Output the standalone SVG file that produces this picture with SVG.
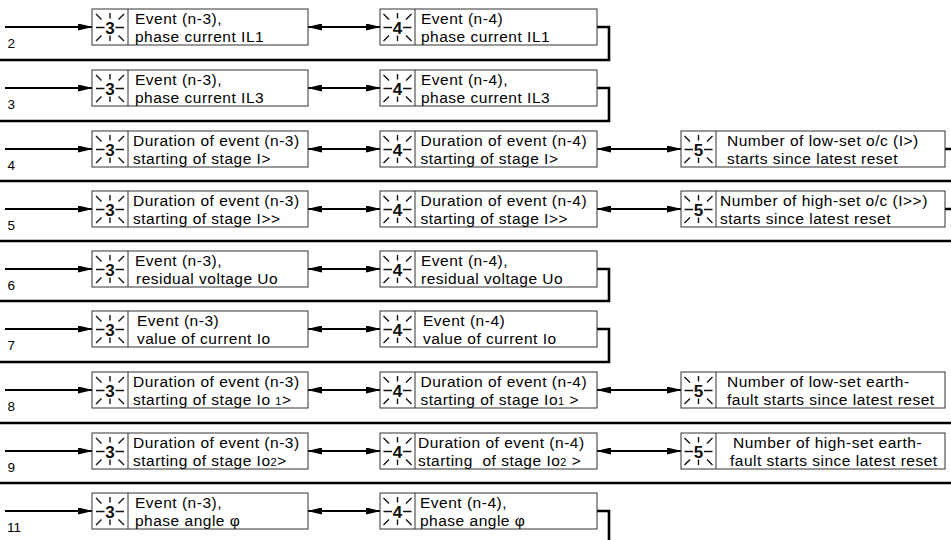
<svg xmlns="http://www.w3.org/2000/svg" xmlns:xlink="http://www.w3.org/1999/xlink" width="951" height="540" viewBox="0 0 951 540">
<style>
.box{fill:#fff;stroke:#333;stroke-width:1}
.dv{stroke:#333;stroke-width:1}
.t{font-family:"Liberation Sans",Arial,sans-serif;font-size:15.5px;letter-spacing:0.5px;fill:#000}
.lbl{font-family:"Liberation Sans",Arial,sans-serif;font-size:13.5px;fill:#000}
.dg{font-family:"Liberation Sans",Arial,sans-serif;font-size:17px;font-weight:bold;text-anchor:middle;fill:#111}
.ic{stroke:#111;stroke-width:1.4;fill:none}
.con{stroke:#000;stroke-width:2;fill:none}
.ret{stroke:#000;stroke-width:2.6;fill:none}
.sm{font-size:11px}
</style>
<defs>
<marker id="ah" viewBox="0 0 15 7" refX="14" refY="3.5" markerWidth="15" markerHeight="7" markerUnits="userSpaceOnUse" orient="auto-start-reverse"><path d="M0,0 L15,3.5 L0,7 z" fill="#000"/></marker>
<path id="ico" class="ic" d="M-14,-13 L-8.5,-7.5 M0,-14 V-8.5 M8.5,-7.5 L14,-13 M-14,0.5 H-5.5 M5.5,0.5 H14 M-14,14 L-8.5,8.5 M0,8.5 V14 M8.5,8.5 L14,14"/>
</defs>

<g id="labels">
<text class="lbl" x="7.5" y="48">2</text>
<text class="lbl" x="7.5" y="109">3</text>
<text class="lbl" x="7.5" y="170">4</text>
<text class="lbl" x="7.5" y="230">5</text>
<text class="lbl" x="7.5" y="290">6</text>
<text class="lbl" x="7.5" y="350">7</text>
<text class="lbl" x="7.5" y="411">8</text>
<text class="lbl" x="7.5" y="472">9</text>
<text class="lbl" x="7" y="532">11</text>
</g>

<g id="connectors">
<path class="con" marker-end="url(#ah)" d="M5,27 H92"/>
<path class="con" marker-end="url(#ah)" d="M5,88 H92"/>
<path class="con" marker-end="url(#ah)" d="M5,149 H92"/>
<path class="con" marker-end="url(#ah)" d="M5,209 H92"/>
<path class="con" marker-end="url(#ah)" d="M5,269 H92"/>
<path class="con" marker-end="url(#ah)" d="M5,329 H92"/>
<path class="con" marker-end="url(#ah)" d="M5,390 H92"/>
<path class="con" marker-end="url(#ah)" d="M5,451 H92"/>
<path class="con" marker-end="url(#ah)" d="M5,511 H92"/>
<path class="con" marker-start="url(#ah)" marker-end="url(#ah)" d="M308,27 H380"/>
<path class="con" marker-start="url(#ah)" marker-end="url(#ah)" d="M308,88 H380"/>
<path class="con" marker-start="url(#ah)" marker-end="url(#ah)" d="M308,149 H380"/>
<path class="con" marker-start="url(#ah)" marker-end="url(#ah)" d="M308,209 H380"/>
<path class="con" marker-start="url(#ah)" marker-end="url(#ah)" d="M308,269 H380"/>
<path class="con" marker-start="url(#ah)" marker-end="url(#ah)" d="M308,329 H380"/>
<path class="con" marker-start="url(#ah)" marker-end="url(#ah)" d="M308,390 H380"/>
<path class="con" marker-start="url(#ah)" marker-end="url(#ah)" d="M308,451 H380"/>
<path class="con" marker-start="url(#ah)" marker-end="url(#ah)" d="M308,511 H380"/>
<path class="con" marker-start="url(#ah)" marker-end="url(#ah)" d="M597,149 H681"/>
<path class="con" marker-start="url(#ah)" marker-end="url(#ah)" d="M597,209 H681"/>
<path class="con" marker-start="url(#ah)" marker-end="url(#ah)" d="M597,390 H681"/>
<path class="con" marker-start="url(#ah)" marker-end="url(#ah)" d="M597,451 H681"/>
<path class="ret" d="M597,27 H609 V60 H0"/>
<path class="ret" d="M597,88 H609 V121 H0"/>
<path class="ret" d="M945,149 H954 V181 H0"/>
<path class="ret" d="M945,209 H954 V241 H0"/>
<path class="ret" d="M597,269 H609 V301 H0"/>
<path class="ret" d="M597,329 H609 V362 H0"/>
<path class="ret" d="M952,423 H0"/>
<path class="ret" d="M952,483 H0"/>
<path class="ret" d="M597,511 H609 V541"/>
</g>

<g id="r2c1"><rect class="box" x="92" y="9" width="216" height="36"/><line class="dv" x1="128" y1="9" x2="128" y2="45"/><use xlink:href="#ico" x="110" y="27"/><text class="dg" x="110" y="33.5">3</text><text class="t" x="135" y="24">Event (n-3),</text><text class="t" x="135" y="41.5">phase current IL1</text></g>
<g id="r2c2"><rect class="box" x="380" y="9" width="217" height="36"/><line class="dv" x1="415" y1="9" x2="415" y2="45"/><use xlink:href="#ico" x="397.5" y="27"/><text class="dg" x="397.5" y="33.5">4</text><text class="t" x="421" y="24">Event (n-4)</text><text class="t" x="421" y="41.5">phase current IL1</text></g>

<g id="r3c1"><rect class="box" x="92" y="70" width="216" height="36"/><line class="dv" x1="128" y1="70" x2="128" y2="106"/><use xlink:href="#ico" x="110" y="88"/><text class="dg" x="110" y="94.5">3</text><text class="t" x="135" y="85">Event (n-3),</text><text class="t" x="135" y="102.5">phase current IL3</text></g>
<g id="r3c2"><rect class="box" x="380" y="70" width="217" height="36"/><line class="dv" x1="415" y1="70" x2="415" y2="106"/><use xlink:href="#ico" x="397.5" y="88"/><text class="dg" x="397.5" y="94.5">4</text><text class="t" x="421" y="85">Event (n-4),</text><text class="t" x="421" y="102.5">phase current IL3</text></g>

<g id="r4c1"><rect class="box" x="92" y="131" width="216" height="36"/><line class="dv" x1="128" y1="131" x2="128" y2="167"/><use xlink:href="#ico" x="110" y="149"/><text class="dg" x="110" y="155.5">3</text><text class="t" x="133" y="146">Duration of event (n-3)</text><text class="t" x="133" y="163.5">starting of stage I&gt;</text></g>
<g id="r4c2"><rect class="box" x="380" y="131" width="217" height="36"/><line class="dv" x1="415" y1="131" x2="415" y2="167"/><use xlink:href="#ico" x="397.5" y="149"/><text class="dg" x="397.5" y="155.5">4</text><text class="t" x="420.5" y="146">Duration of event (n-4)</text><text class="t" x="420.5" y="163.5">starting of stage I&gt;</text></g>
<g id="r4c3"><rect class="box" x="681" y="131" width="264" height="36"/><line class="dv" x1="716" y1="131" x2="716" y2="167"/><use xlink:href="#ico" x="698.5" y="149"/><text class="dg" x="698.5" y="155.5">5</text><text class="t" x="727" y="146">Number of low-set o/c (I&gt;)</text><text class="t" x="727" y="163.5">starts since latest reset</text></g>

<g id="r5c1"><rect class="box" x="92" y="191" width="216" height="36"/><line class="dv" x1="128" y1="191" x2="128" y2="227"/><use xlink:href="#ico" x="110" y="209"/><text class="dg" x="110" y="215.5">3</text><text class="t" x="133" y="206">Duration of event (n-3)</text><text class="t" x="133" y="223.5">starting of stage I&gt;&gt;</text></g>
<g id="r5c2"><rect class="box" x="380" y="191" width="217" height="36"/><line class="dv" x1="415" y1="191" x2="415" y2="227"/><use xlink:href="#ico" x="397.5" y="209"/><text class="dg" x="397.5" y="215.5">4</text><text class="t" x="420.5" y="206">Duration of event (n-4)</text><text class="t" x="420.5" y="223.5">starting of stage I&gt;&gt;</text></g>
<g id="r5c3"><rect class="box" x="681" y="191" width="264" height="36"/><line class="dv" x1="716" y1="191" x2="716" y2="227"/><use xlink:href="#ico" x="698.5" y="209"/><text class="dg" x="698.5" y="215.5">5</text><text class="t" x="720" y="206">Number of high-set o/c (I&gt;&gt;)</text><text class="t" x="720" y="223.5">starts since latest reset</text></g>

<g id="r6c1"><rect class="box" x="92" y="251" width="216" height="36"/><line class="dv" x1="128" y1="251" x2="128" y2="287"/><use xlink:href="#ico" x="110" y="269"/><text class="dg" x="110" y="275.5">3</text><text class="t" x="135" y="266">Event (n-3),</text><text class="t" x="136" y="283.5">residual voltage Uo</text></g>
<g id="r6c2"><rect class="box" x="380" y="251" width="217" height="36"/><line class="dv" x1="415" y1="251" x2="415" y2="287"/><use xlink:href="#ico" x="397.5" y="269"/><text class="dg" x="397.5" y="275.5">4</text><text class="t" x="421" y="266">Event (n-4),</text><text class="t" x="421" y="283.5">residual voltage Uo</text></g>

<g id="r7c1"><rect class="box" x="92" y="311" width="216" height="36"/><line class="dv" x1="128" y1="311" x2="128" y2="347"/><use xlink:href="#ico" x="110" y="329"/><text class="dg" x="110" y="335.5">3</text><text class="t" x="137" y="326">Event (n-3)</text><text class="t" x="137" y="343.5">value of current Io</text></g>
<g id="r7c2"><rect class="box" x="380" y="311" width="217" height="36"/><line class="dv" x1="415" y1="311" x2="415" y2="347"/><use xlink:href="#ico" x="397.5" y="329"/><text class="dg" x="397.5" y="335.5">4</text><text class="t" x="423" y="326">Event (n-4)</text><text class="t" x="423" y="343.5">value of current Io</text></g>

<g id="r8c1"><rect class="box" x="92" y="372" width="216" height="36"/><line class="dv" x1="128" y1="372" x2="128" y2="408"/><use xlink:href="#ico" x="110" y="390"/><text class="dg" x="110" y="396.5">3</text><text class="t" x="133" y="387">Duration of event (n-3)</text><text class="t" x="133" y="404.5">starting of stage Io <tspan class="sm">1</tspan>&gt;</text></g>
<g id="r8c2"><rect class="box" x="380" y="372" width="217" height="36"/><line class="dv" x1="415" y1="372" x2="415" y2="408"/><use xlink:href="#ico" x="397.5" y="390"/><text class="dg" x="397.5" y="396.5">4</text><text class="t" x="420.5" y="387">Duration of event (n-4)</text><text class="t" x="420.5" y="404.5">starting of stage Io<tspan class="sm">1</tspan> &gt;</text></g>
<g id="r8c3"><rect class="box" x="681" y="372" width="264" height="36"/><line class="dv" x1="716" y1="372" x2="716" y2="408"/><use xlink:href="#ico" x="698.5" y="390"/><text class="dg" x="698.5" y="396.5">5</text><text class="t" x="727" y="387">Number of low-set earth-</text><text class="t" x="727" y="404.5">fault starts since latest reset</text></g>

<g id="r9c1"><rect class="box" x="92" y="433" width="216" height="36"/><line class="dv" x1="128" y1="433" x2="128" y2="469"/><use xlink:href="#ico" x="110" y="451"/><text class="dg" x="110" y="457.5">3</text><text class="t" x="133" y="448">Duration of event (n-3)</text><text class="t" x="133" y="465.5">starting of stage Io<tspan class="sm">2</tspan>&gt;</text></g>
<g id="r9c2"><rect class="box" x="380" y="433" width="217" height="36"/><line class="dv" x1="415" y1="433" x2="415" y2="469"/><use xlink:href="#ico" x="397.5" y="451"/><text class="dg" x="397.5" y="457.5">4</text><text class="t" x="418" y="448">Duration of event (n-4)</text><text class="t" x="418" y="465.5" xml:space="preserve">starting  of stage Io<tspan class="sm">2</tspan> &gt;</text></g>
<g id="r9c3"><rect class="box" x="681" y="433" width="264" height="36"/><line class="dv" x1="716" y1="433" x2="716" y2="469"/><use xlink:href="#ico" x="698.5" y="451"/><text class="dg" x="698.5" y="457.5">5</text><text class="t" x="733" y="448">Number of high-set earth-</text><text class="t" x="730" y="465.5">fault starts since latest reset</text></g>

<g id="r11c1"><rect class="box" x="92" y="493" width="216" height="36"/><line class="dv" x1="128" y1="493" x2="128" y2="529"/><use xlink:href="#ico" x="110" y="511"/><text class="dg" x="110" y="517.5">3</text><text class="t" x="135" y="508">Event (n-3),</text><text class="t" x="135" y="525.5">phase angle φ</text></g>
<g id="r11c2"><rect class="box" x="380" y="493" width="217" height="36"/><line class="dv" x1="415" y1="493" x2="415" y2="529"/><use xlink:href="#ico" x="397.5" y="511"/><text class="dg" x="397.5" y="517.5">4</text><text class="t" x="420" y="508">Event (n-4),</text><text class="t" x="420" y="525.5">phase angle φ</text></g>
</svg>
